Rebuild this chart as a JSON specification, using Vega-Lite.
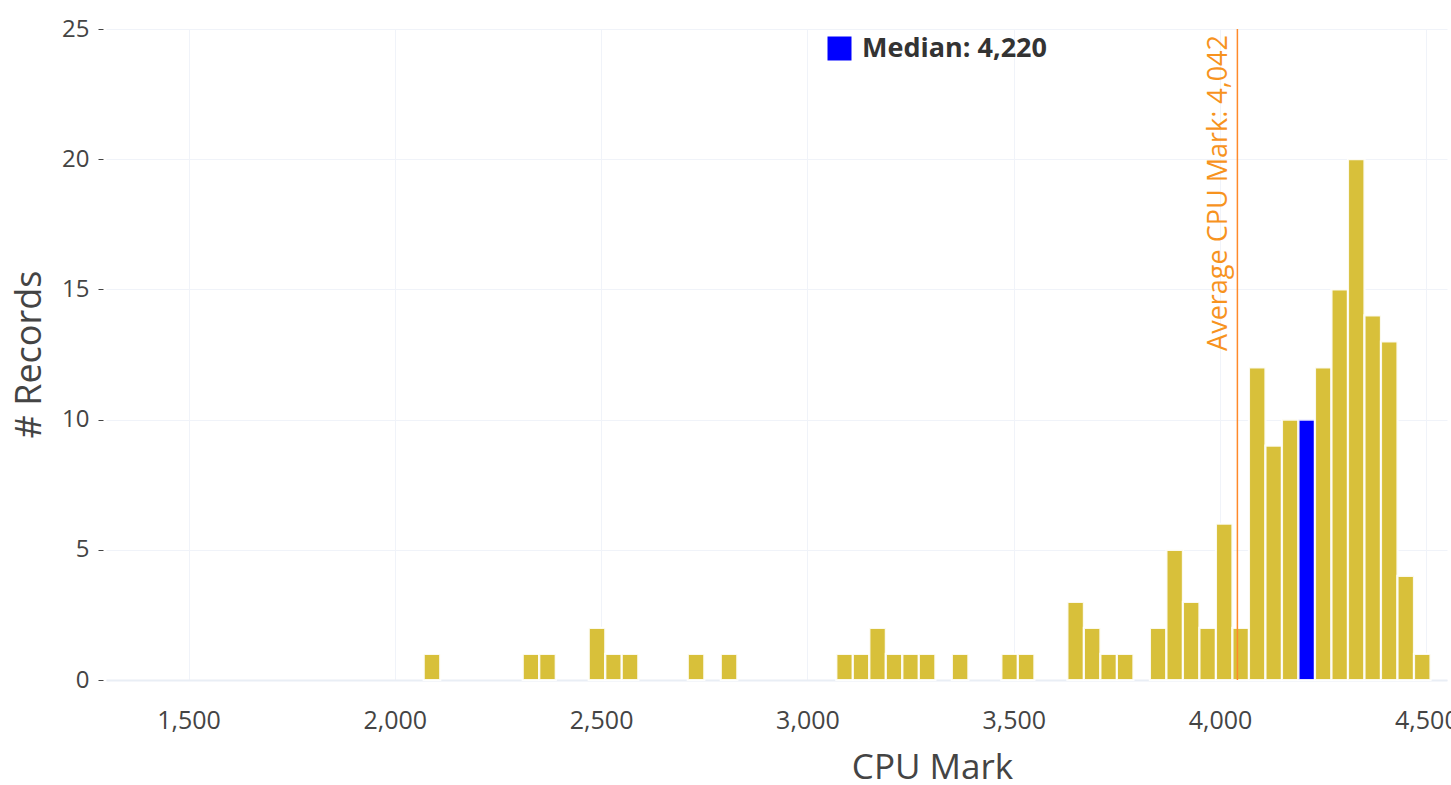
{
  "$schema": "https://vega.github.io/schema/vega-lite/v6.json",
  "width": 1341,
  "height": 651,
  "autosize": {"type": "none"},
  "padding": {"left": 106, "top": 29, "right": 4, "bottom": 105},
  "background": "white",
  "config": {
    "font": "Open Sans",
    "view": {"stroke": null},
    "axis": {"labelFont": "Open Sans", "titleFont": "Open Sans", "labelColor": "#444444", "titleColor": "#444444", "titleFontWeight": "normal", "gridColor": "#f0f3f9", "gridWidth": 1}
  },
  "datasets": {
    "bins": [
      {"start": 2070, "end": 2110, "count": 1, "group": "Other"},
      {"start": 2310, "end": 2350, "count": 1, "group": "Other"},
      {"start": 2350, "end": 2390, "count": 1, "group": "Other"},
      {"start": 2470, "end": 2510, "count": 2, "group": "Other"},
      {"start": 2510, "end": 2550, "count": 1, "group": "Other"},
      {"start": 2550, "end": 2590, "count": 1, "group": "Other"},
      {"start": 2710, "end": 2750, "count": 1, "group": "Other"},
      {"start": 2790, "end": 2830, "count": 1, "group": "Other"},
      {"start": 3070, "end": 3110, "count": 1, "group": "Other"},
      {"start": 3110, "end": 3150, "count": 1, "group": "Other"},
      {"start": 3150, "end": 3190, "count": 2, "group": "Other"},
      {"start": 3190, "end": 3230, "count": 1, "group": "Other"},
      {"start": 3230, "end": 3270, "count": 1, "group": "Other"},
      {"start": 3270, "end": 3310, "count": 1, "group": "Other"},
      {"start": 3350, "end": 3390, "count": 1, "group": "Other"},
      {"start": 3470, "end": 3510, "count": 1, "group": "Other"},
      {"start": 3510, "end": 3550, "count": 1, "group": "Other"},
      {"start": 3630, "end": 3670, "count": 3, "group": "Other"},
      {"start": 3670, "end": 3710, "count": 2, "group": "Other"},
      {"start": 3710, "end": 3750, "count": 1, "group": "Other"},
      {"start": 3750, "end": 3790, "count": 1, "group": "Other"},
      {"start": 3830, "end": 3870, "count": 2, "group": "Other"},
      {"start": 3870, "end": 3910, "count": 5, "group": "Other"},
      {"start": 3910, "end": 3950, "count": 3, "group": "Other"},
      {"start": 3950, "end": 3990, "count": 2, "group": "Other"},
      {"start": 3990, "end": 4030, "count": 6, "group": "Other"},
      {"start": 4030, "end": 4070, "count": 2, "group": "Other"},
      {"start": 4070, "end": 4110, "count": 12, "group": "Other"},
      {"start": 4110, "end": 4150, "count": 9, "group": "Other"},
      {"start": 4150, "end": 4190, "count": 10, "group": "Other"},
      {"start": 4190, "end": 4230, "count": 10, "group": "Median: 4,220"},
      {"start": 4230, "end": 4270, "count": 12, "group": "Other"},
      {"start": 4270, "end": 4310, "count": 15, "group": "Other"},
      {"start": 4310, "end": 4350, "count": 20, "group": "Other"},
      {"start": 4350, "end": 4390, "count": 14, "group": "Other"},
      {"start": 4390, "end": 4430, "count": 13, "group": "Other"},
      {"start": 4430, "end": 4470, "count": 4, "group": "Other"},
      {"start": 4470, "end": 4510, "count": 1, "group": "Other"}
    ],
    "avg": [{"mark": 4042, "top": 25, "label": "Average CPU Mark: 4,042"}]
  },
  "layer": [
    {
      "data": {"name": "bins"},
      "mark": {"type": "bar", "stroke": "#ffffff", "strokeWidth": 2.2, "strokeOpacity": 0.9},
      "encoding": {
        "x": {
          "field": "start", "type": "quantitative",
          "scale": {"domain": [1300, 4550], "nice": false, "zero": false},
          "axis": {
            "values": [1500, 2000, 2500, 3000, 3500, 4000, 4500],
            "format": ",d",
            "grid": true,
            "ticks": false,
            "labelFontSize": 25,
            "labelPadding": 28,
            "domainColor": "#e9eef5",
            "domainWidth": 2,
            "title": "CPU Mark",
            "titleFontSize": 35,
            "titleX": 826,
            "titleY": 98,
            "titleAnchor": null,
            "titleAlign": "center",
            "titleBaseline": "alphabetic"
          }
        },
        "x2": {"field": "end"},
        "y": {
          "field": "count", "type": "quantitative",
          "scale": {"domain": [0, 25], "nice": false},
          "axis": {
            "values": [0, 5, 10, 15, 20, 25],
            "grid": true,
            "domain": false,
            "offset": 3,
            "tickSize": 5,
            "tickColor": "#444444",
            "labelFontSize": 24,
            "labelPadding": 9,
            "title": "# Records",
            "titleFontSize": 36,
            "titleAngle": 270,
            "titleX": -74,
            "titleY": 325,
            "titleAlign": "center",
            "titleBaseline": "middle",
            "titleAnchor": null
          }
        },
        "y2": {"datum": 0},
        "color": {
          "field": "group", "type": "nominal",
          "scale": {"domain": ["Median: 4,220", "Other"], "range": ["#0000ff", "#d8c03a"]},
          "legend": {
            "values": ["Median: 4,220"],
            "title": null,
            "orient": "none",
            "legendX": 720,
            "legendY": 6,
            "padding": 0,
            "symbolType": "square",
            "symbolSize": 576,
            "symbolStrokeWidth": 0,
            "symbolOpacity": 1,
            "labelFont": "Open Sans",
            "labelFontWeight": "bold",
            "labelFontSize": 27,
            "labelColor": "#333333",
            "labelOffset": 9,
            "labelLimit": 500
          }
        }
      }
    },
    {
      "data": {"name": "avg"},
      "mark": {"type": "rule", "color": "#ff8a2a", "strokeWidth": 1.5},
      "encoding": {"x": {"field": "mark", "type": "quantitative"}}
    },
    {
      "data": {"name": "avg"},
      "mark": {"type": "text", "color": "#f7931e", "angle": 270, "align": "right", "baseline": "bottom", "dx": -6, "dy": -4, "fontSize": 27, "font": "Open Sans"},
      "encoding": {
        "x": {"field": "mark", "type": "quantitative"},
        "y": {"field": "top", "type": "quantitative"},
        "text": {"field": "label"}
      }
    }
  ]
}
